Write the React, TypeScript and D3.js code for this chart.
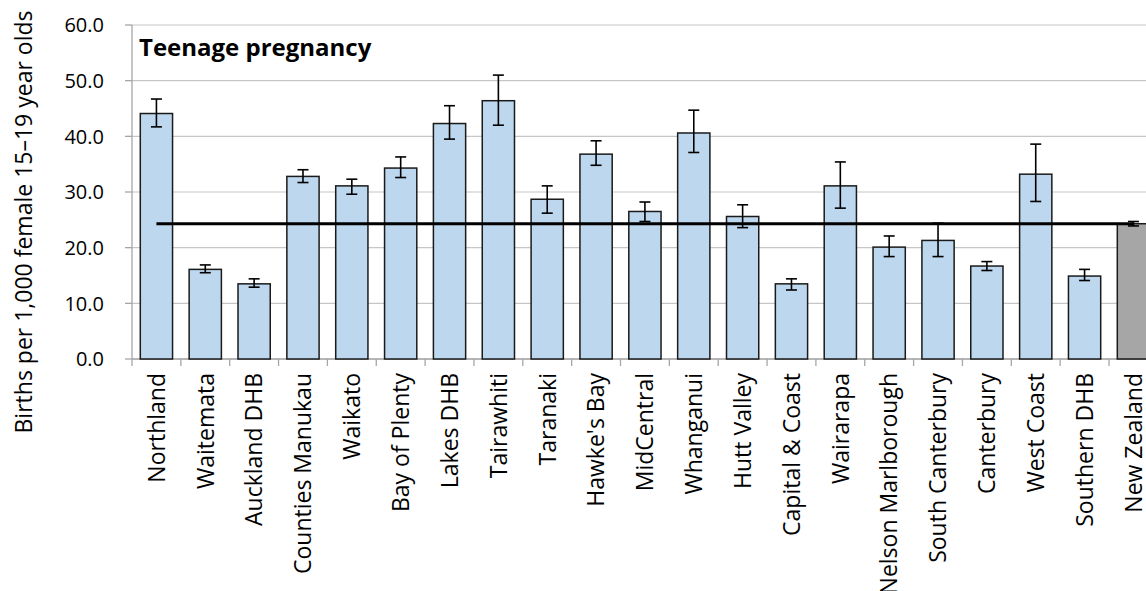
import React from "react";
import * as d3 from "d3";

const categories = [
  "Northland", "Waitemata", "Auckland DHB", "Counties Manukau", "Waikato",
  "Bay of Plenty", "Lakes DHB", "Tairawhiti", "Taranaki", "Hawke's Bay",
  "MidCentral", "Whanganui", "Hutt Valley", "Capital & Coast", "Wairarapa",
  "Nelson Marlborough", "South Canterbury", "Canterbury", "West Coast",
  "Southern DHB", "New Zealand",
];
const values = [
  44.1, 16.1, 13.5, 32.8, 31.1, 34.3, 42.3, 46.4, 28.7, 36.8,
  26.5, 40.6, 25.6, 13.5, 31.1, 20.1, 21.3, 16.7, 33.2, 14.9, 24.3,
];
const lower = [
  41.7, 15.5, 12.9, 31.7, 29.6, 32.6, 39.5, 42.0, 26.2, 34.8,
  24.7, 37.1, 23.6, 12.4, 27.1, 18.4, 18.4, 15.9, 28.3, 14.1, 23.9,
];
const upper = [
  46.7, 16.9, 14.4, 34.0, 32.3, 36.3, 45.5, 51.0, 31.1, 39.2,
  28.2, 44.7, 27.7, 14.4, 35.4, 22.1, 24.4, 17.5, 38.6, 16.1, 24.7,
];
const nzRate = 24.3;
const yTicks = [0, 10, 20, 30, 40, 50, 60];
const chartTitle = "Teenage pregnancy";
const yTitle = "Births per 1,000 female 15\u201319 year olds";

const W = 1146;
const H = 591;
const left = 132;
const top = 25;
const bottom = 359;
const band = 48.85;
const FONT = "'Open Sans', 'Noto Sans', sans-serif";

export default function App() {
  const x = d3
    .scaleBand<string>()
    .domain(categories)
    .range([left, left + band * categories.length])
    .paddingInner(0.34)
    .paddingOuter(0.17);
  const y = d3.scaleLinear().domain([0, 60]).range([bottom, top]);
  const step = x.step();
  const bw = x.bandwidth();
  const cx = (c: string) => (x(c) as number) + bw / 2;
  const capHalf = 5.5;
  const lineStart = cx(categories[0]);
  const lineEnd = cx(categories[categories.length - 1]);

  return (
    <svg
      width={W}
      height={H}
      style={{ position: "fixed", left: 0, top: 0, background: "#fff" }}
      fontFamily={FONT}
    >
      {/* gridlines */}
      {yTicks.map((t) => (
        <line key={"g" + t} x1={left} x2={W} y1={y(t)} y2={y(t)} stroke="#C6C6C6" strokeWidth={1.2} />
      ))}
      {/* y axis */}
      <line x1={left} x2={left} y1={top} y2={bottom} stroke="#A6A6A6" strokeWidth={1.3} />
      {yTicks.map((t) => (
        <g key={"yt" + t}>
          <line x1={left - 7} x2={left} y1={y(t)} y2={y(t)} stroke="#A6A6A6" strokeWidth={1.3} />
          <text x={104} y={y(t)} dy="0.36em" textAnchor="end" fontSize={20} fill="#000">
            {d3.format(".1f")(t)}
          </text>
        </g>
      ))}
      {/* x axis */}
      <line x1={left} x2={W} y1={bottom} y2={bottom} stroke="#A6A6A6" strokeWidth={1.3} />
      {categories.map((c, i) => (
        <line
          key={"xt" + c}
          x1={left + i * step}
          x2={left + i * step}
          y1={bottom}
          y2={bottom + 7}
          stroke="#A6A6A6"
          strokeWidth={1.3}
        />
      ))}
      {/* bars */}
      {categories.map((c, i) => (
        <rect
          key={"b" + c}
          x={x(c)}
          y={y(values[i])}
          width={bw}
          height={y(0) - y(values[i])}
          fill={c === "New Zealand" ? "#A6A6A6" : "#BDD7EE"}
          stroke="#1a1a1a"
          strokeWidth={1.5}
        />
      ))}
      {/* NZ reference line */}
      <line x1={lineStart} x2={lineEnd} y1={y(nzRate)} y2={y(nzRate)} stroke="#000" strokeWidth={3} />
      {/* error bars */}
      {categories.map((c, i) => (
        <g key={"e" + c} stroke="#000" strokeWidth={1.6}>
          <line x1={cx(c)} x2={cx(c)} y1={y(upper[i])} y2={y(lower[i])} />
          <line x1={cx(c) - capHalf} x2={cx(c) + capHalf} y1={y(upper[i])} y2={y(upper[i])} />
          <line x1={cx(c) - capHalf} x2={cx(c) + capHalf} y1={y(lower[i])} y2={y(lower[i])} />
        </g>
      ))}
      {/* category labels */}
      {categories.map((c) => (
        <text
          key={"l" + c}
          transform={`translate(${cx(c)},${bottom + 14}) rotate(-90)`}
          textAnchor="end"
          dy="0.36em"
          fontSize={23}
          fill="#000"
        >
          {c}
        </text>
      ))}
      {/* chart title */}
      <text x={139} y={56} fontSize={24} fontWeight="bold" fill="#000">
        {chartTitle}
      </text>
      {/* y title */}
      <text
        transform={`translate(24,${222}) rotate(-90)`}
        textAnchor="middle"
        dy="0.36em"
        fontSize={23}
        fill="#000"
      >
        {yTitle}
      </text>
    </svg>
  );
}
